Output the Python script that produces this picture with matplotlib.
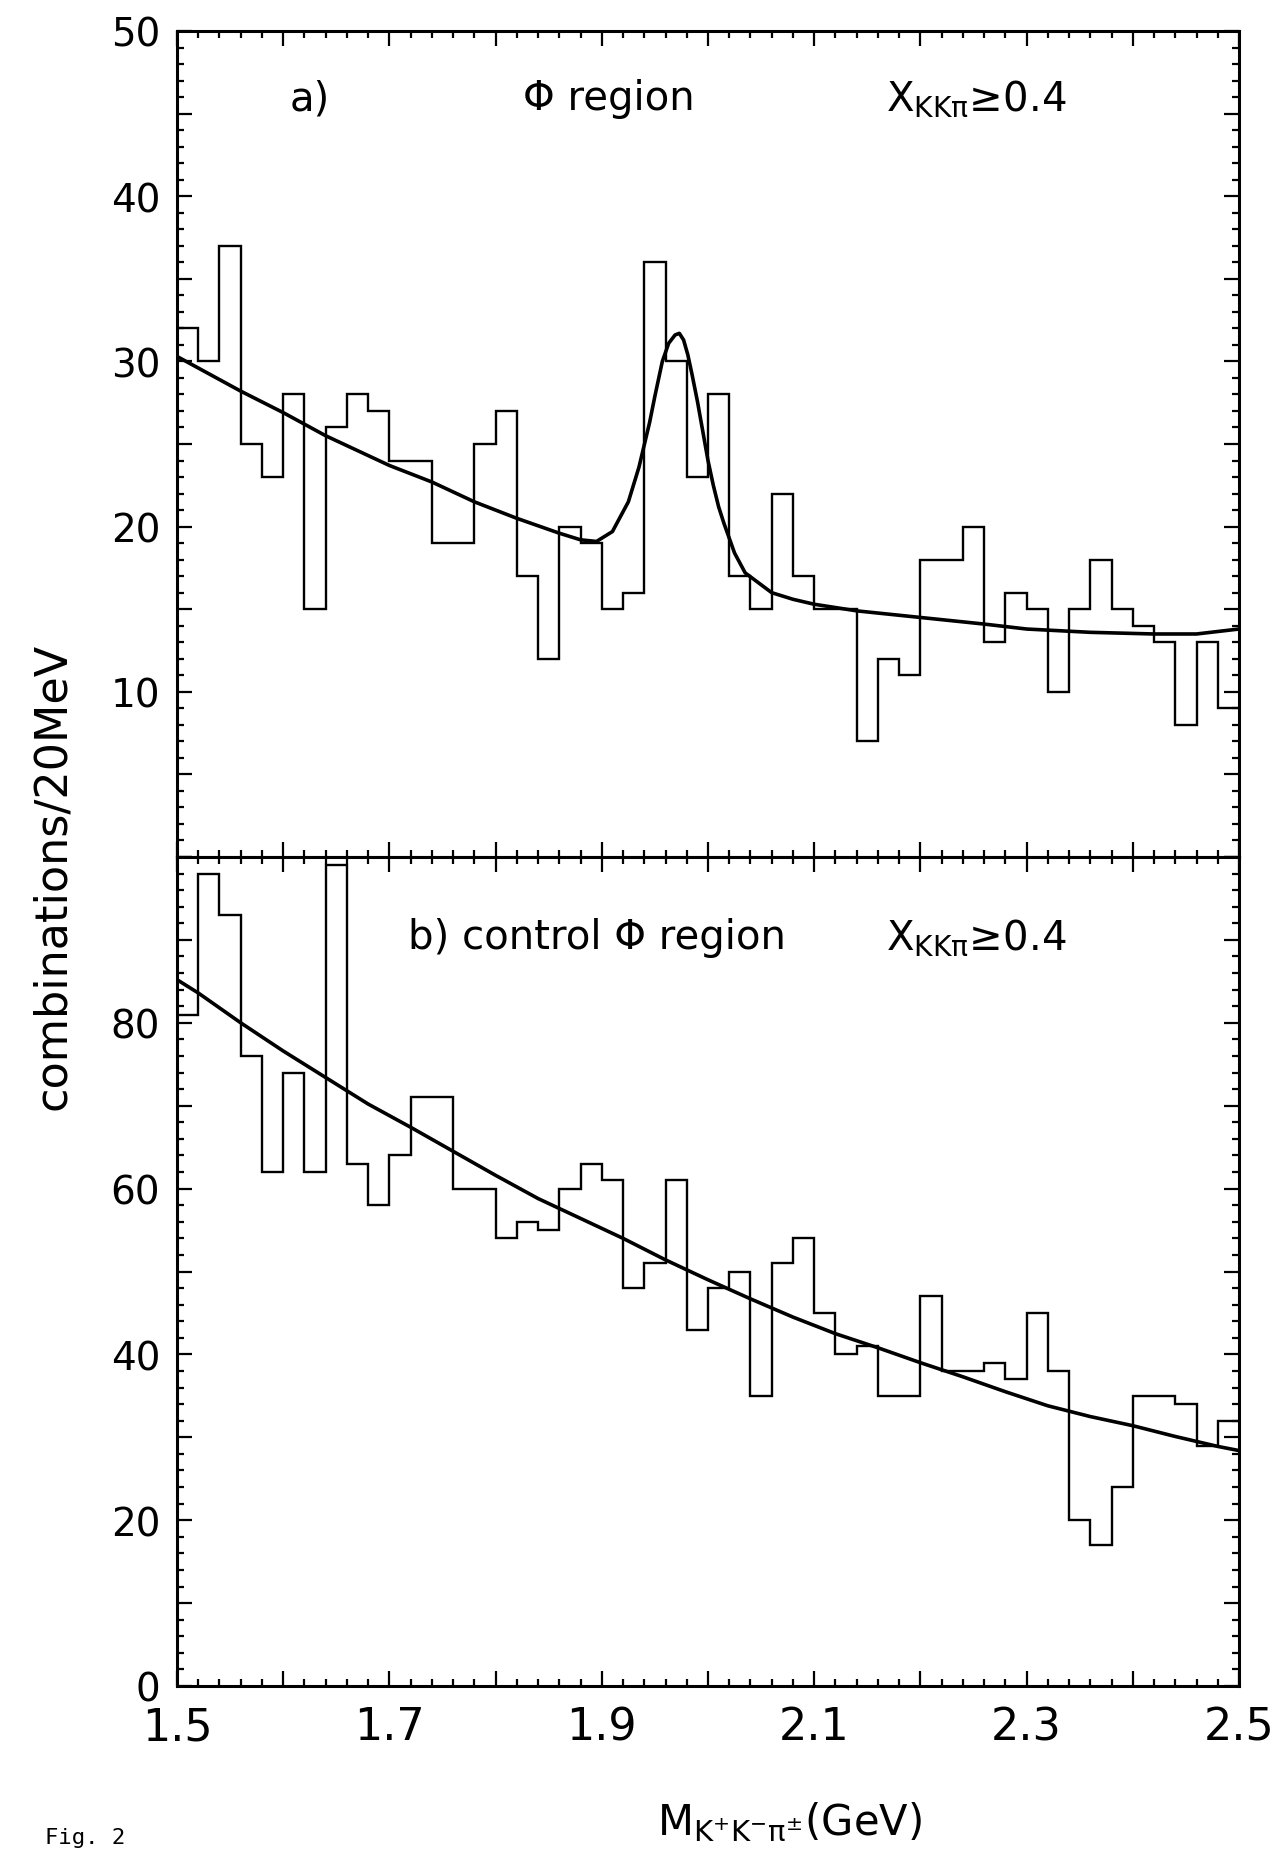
import numpy as np
import matplotlib
matplotlib.use("Agg")
import matplotlib.pyplot as plt
from matplotlib.ticker import MultipleLocator, FuncFormatter

# --- data ---------------------------------------------------------------
# 50 bins of 20 MeV between 1.5 and 2.5 GeV
M_LO, M_HI, N_BINS = 1.5, 2.5, 50

# a) phi region, X_KKpi >= 0.4
counts_a = [32, 30, 37, 25, 23, 28, 15, 26, 28, 27,
            24, 24, 19, 19, 25, 27, 17, 12, 20, 19,
            15, 16, 36, 30, 23, 28, 17, 15, 22, 17,
            15, 15, 7, 12, 11, 18, 18, 20, 13, 16,
            15, 10, 15, 18, 15, 14, 13, 8, 13, 9]

# fitted curve (background + peak) in panel a)
fit_a_m = [1.50, 1.52, 1.56, 1.60, 1.64, 1.70, 1.74, 1.78, 1.82, 1.86,
           1.88, 1.895, 1.91, 1.925, 1.935, 1.945, 1.95, 1.957, 1.963, 1.969,
           1.973, 1.977, 1.981, 1.985, 1.99, 1.995, 2.00, 2.005, 2.01, 2.015,
           2.025, 2.035, 2.06, 2.08, 2.10, 2.14, 2.20, 2.26, 2.30, 2.36,
           2.42, 2.46, 2.50]
fit_a_y = [30.3, 29.6, 28.2, 26.9, 25.5, 23.7, 22.7, 21.5, 20.5, 19.6,
           19.2, 19.1, 19.7, 21.5, 23.6, 26.3, 27.9, 30.0, 31.1, 31.6,
           31.7, 31.3, 30.4, 29.2, 27.6, 25.8, 24.0, 22.5, 21.2, 20.2,
           18.4, 17.2, 16.0, 15.6, 15.3, 14.9, 14.5, 14.1, 13.8, 13.6,
           13.5, 13.5, 13.8]

# b) control phi region, X_KKpi >= 0.4
counts_b = [81, 98, 93, 76, 62, 74, 62, 99, 63, 58,
            64, 71, 71, 60, 60, 54, 56, 55, 60, 63,
            61, 48, 51, 61, 43, 48, 50, 35, 51, 54,
            45, 40, 41, 35, 35, 47, 38, 38, 39, 37,
            45, 38, 20, 17, 24, 35, 35, 34, 29, 32]

fit_b_m = [1.50, 1.52, 1.56, 1.60, 1.64, 1.68, 1.72, 1.76, 1.80, 1.84,
           1.88, 1.92, 1.96, 2.00, 2.04, 2.08, 2.12, 2.16, 2.20, 2.24,
           2.28, 2.32, 2.36, 2.40, 2.44, 2.48, 2.50]
fit_b_y = [85.2, 83.6, 80.0, 76.6, 73.4, 70.2, 67.4, 64.5, 61.6, 58.8,
           56.4, 54.0, 51.4, 49.0, 46.7, 44.5, 42.5, 40.8, 39.0, 37.3,
           35.5, 33.8, 32.5, 31.4, 30.1, 28.9, 28.4]

x_ticks = [1.5, 1.7, 1.9, 2.1, 2.3, 2.5]

# --- figure ---------------------------------------------------------------
W, H = 1286, 1856
plt.rcParams["font.family"] = ["DejaVu Sans"]
plt.rcParams["mathtext.default"] = "regular"
fig = plt.figure(figsize=(W / 100, H / 100), dpi=100)


def fx(px):
    return px / W


def fy(py):
    return 1 - py / H


left, right = 177, 1239
top, mid, bot = 32, 858, 1687
ax_a = fig.add_axes([fx(left), fy(mid), fx(right - left), fy(top) - fy(mid)])
ax_b = fig.add_axes([fx(left), fy(bot), fx(right - left), fy(mid) - fy(bot)])

edges = np.linspace(M_LO, M_HI, N_BINS + 1)

for ax, counts, fm, fyv in [(ax_a, counts_a, fit_a_m, fit_a_y),
                            (ax_b, counts_b, fit_b_m, fit_b_y)]:
    ax.stairs(counts, edges, baseline=None, color="black", linewidth=1.7)
    ax.plot(fm, fyv, color="black", linewidth=2.6, solid_joinstyle="round")
    ax.set_xlim(M_LO, M_HI)
    ax.xaxis.set_major_locator(MultipleLocator(0.1))
    ax.xaxis.set_minor_locator(MultipleLocator(0.02))
    ax.tick_params(which="both", direction="in", top=True, right=True,
                   width=1.6)
    ax.tick_params(which="major", length=11)
    ax.tick_params(which="minor", length=5)
    for s in ax.spines.values():
        s.set_linewidth(2.2)

# panel a) axis
ax_a.set_ylim(0, 50)
ax_a.yaxis.set_major_locator(MultipleLocator(5))
ax_a.yaxis.set_minor_locator(MultipleLocator(1))
ax_a.yaxis.set_major_formatter(FuncFormatter(
    lambda v, p: f"{v:.0f}" if v > 0 and round(v) % 10 == 0 else ""))
ax_a.tick_params(axis="x", labelbottom=False)
ax_a.tick_params(axis="y", labelsize=28, pad=12)

# panel b) axis
ax_b.set_ylim(0, 100)
ax_b.yaxis.set_major_locator(MultipleLocator(10))
ax_b.yaxis.set_minor_locator(MultipleLocator(2))
ax_b.yaxis.set_major_formatter(FuncFormatter(
    lambda v, p: f"{v:.0f}" if v < 100 and round(v) % 20 == 0 else ""))
ax_b.tick_params(axis="y", labelsize=28, pad=12)
ax_b.xaxis.set_major_formatter(FuncFormatter(
    lambda v, p: f"{v:.1f}" if any(abs(v - t) < 1e-6 for t in x_ticks) else ""))
ax_b.tick_params(axis="x", labelsize=32, pad=14)

# --- texts ----------------------------------------------------------------
txt = dict(fontsize=29, color="black")
fig.text(fx(290), fy(99), "a)", va="center", ha="left", **txt)
fig.text(fx(523), fy(99), "\u03a6 region", va="center", ha="left", **txt)
fig.text(fx(886), fy(99), r"X$_{KK\pi}$" + "\u22650.4",
         va="center", ha="left", **txt)
fig.text(fx(408), fy(938), "b) control \u03a6 region", va="center", ha="left",
         **txt)
fig.text(fx(886), fy(938), r"X$_{KK\pi}$" + "\u22650.4", va="center",
         ha="left", **txt)

fig.text(fx(53), fy(876), "combinations/20MeV", rotation=90, va="center",
         ha="center", fontsize=32)
fig.text(fx(790), fy(1822), r"M$_{K^{+}K^{-}\pi^{\pm}}$(GeV)", va="center",
         ha="center", fontsize=30)
fig.text(fx(45), fy(1828), "Fig. 2", va="top", ha="left", fontsize=16,
         family="DejaVu Sans Mono")

fig.savefig("out.png", dpi=100)
